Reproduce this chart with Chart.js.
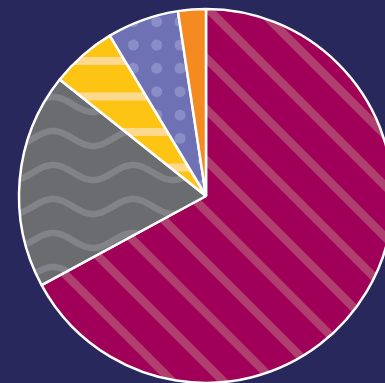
<!DOCTYPE html>
<html>
<head>
<meta charset="utf-8">
<script src="https://cdn.jsdelivr.net/npm/chart.js@4"></script>
<style>
  html, body { margin: 0; padding: 0; background: #28285c; overflow: hidden; width: 385px; height: 383px; }
  #wrap { position: absolute; left: 0; top: 0; width: 412px; height: 392px; }
</style>
</head>
<body>
<div id="wrap"><canvas id="pie"></canvas></div>
<script>
var labels = ['A', 'B', 'C', 'D', 'E'];
var values = [67.1, 18.6, 5.7, 6.2, 2.4];
var baseColors = ['#a00057', '#6b6c70', '#fec413', '#6e72b5', '#f58a20'];

function tile(w, h, bg, draw) {
    var c = document.createElement('canvas');
    c.width = w; c.height = h;
    var g = c.getContext('2d');
    g.fillStyle = bg;
    g.fillRect(0, 0, w, h);
    draw(g, w, h);
    return c;
}

function makePatterns(ctx) {
    // diagonal stripes on the big slice
    var diag = tile(51, 51, baseColors[0], function(g, s) {
        g.strokeStyle = '#ae3f6f';
        g.lineWidth = 8.5;
        for (var k = -2; k <= 1; k++) {
            g.beginPath();
            g.moveTo(k * s + 46 - s, -s);
            g.lineTo(k * s + 46 + 2 * s, 2 * s);
            g.stroke();
        }
    });
    // waves
    var wave = tile(80, 34, baseColors[1], function(g, w, h) {
        g.strokeStyle = '#828388';
        g.lineWidth = 6.5;
        for (var dy = -h; dy <= h; dy += h) {
            g.beginPath();
            for (var x = -2; x <= w + 2; x++) {
                var y = 36.5 + dy - 7.5 * Math.cos(2 * Math.PI * (x - 53) / 80);
                if (x === -2) g.moveTo(x, y); else g.lineTo(x, y);
            }
            g.stroke();
        }
    });
    // horizontal stripes
    var hstripe = tile(10, 71, baseColors[2], function(g, w) {
        g.fillStyle = '#fdd98e';
        [25.5, 61].forEach(function(cy) { g.fillRect(0, cy - 4, w, 8); });
    });
    // dots
    var dots = tile(70, 70, baseColors[3], function(g, w) {
        g.fillStyle = '#8b8dc6';
        var step = w / 3;
        for (var i = -1; i <= 3; i++) {
            for (var j = -1; j <= 3; j++) {
                g.beginPath();
                g.arc(16.7 + i * step, 21.7 + j * step, 5.5, 0, Math.PI * 2);
                g.fill();
            }
        }
    });
    return [
        ctx.createPattern(diag, 'repeat'),
        ctx.createPattern(wave, 'repeat'),
        ctx.createPattern(hstripe, 'repeat'),
        ctx.createPattern(dots, 'repeat'),
        baseColors[4]
    ];
}

var ctx = document.getElementById('pie').getContext('2d');
var fills = makePatterns(ctx);

var pie = new Chart(ctx, {
    type: 'pie',
    data: {
        labels: labels,
        datasets: [{
            data: values,
            backgroundColor: fills,
            borderColor: '#ffffff',
            borderWidth: 2.5
        }]
    },
    options: {
        responsive: true,
        maintainAspectRatio: false,
        animation: false,
        events: [],
        radius: 187,
        layout: { padding: 0 },
        plugins: {
            legend: { display: false },
            tooltip: { enabled: false },
            title: { display: false }
        }
    }
});
</script>
</body>
</html>
